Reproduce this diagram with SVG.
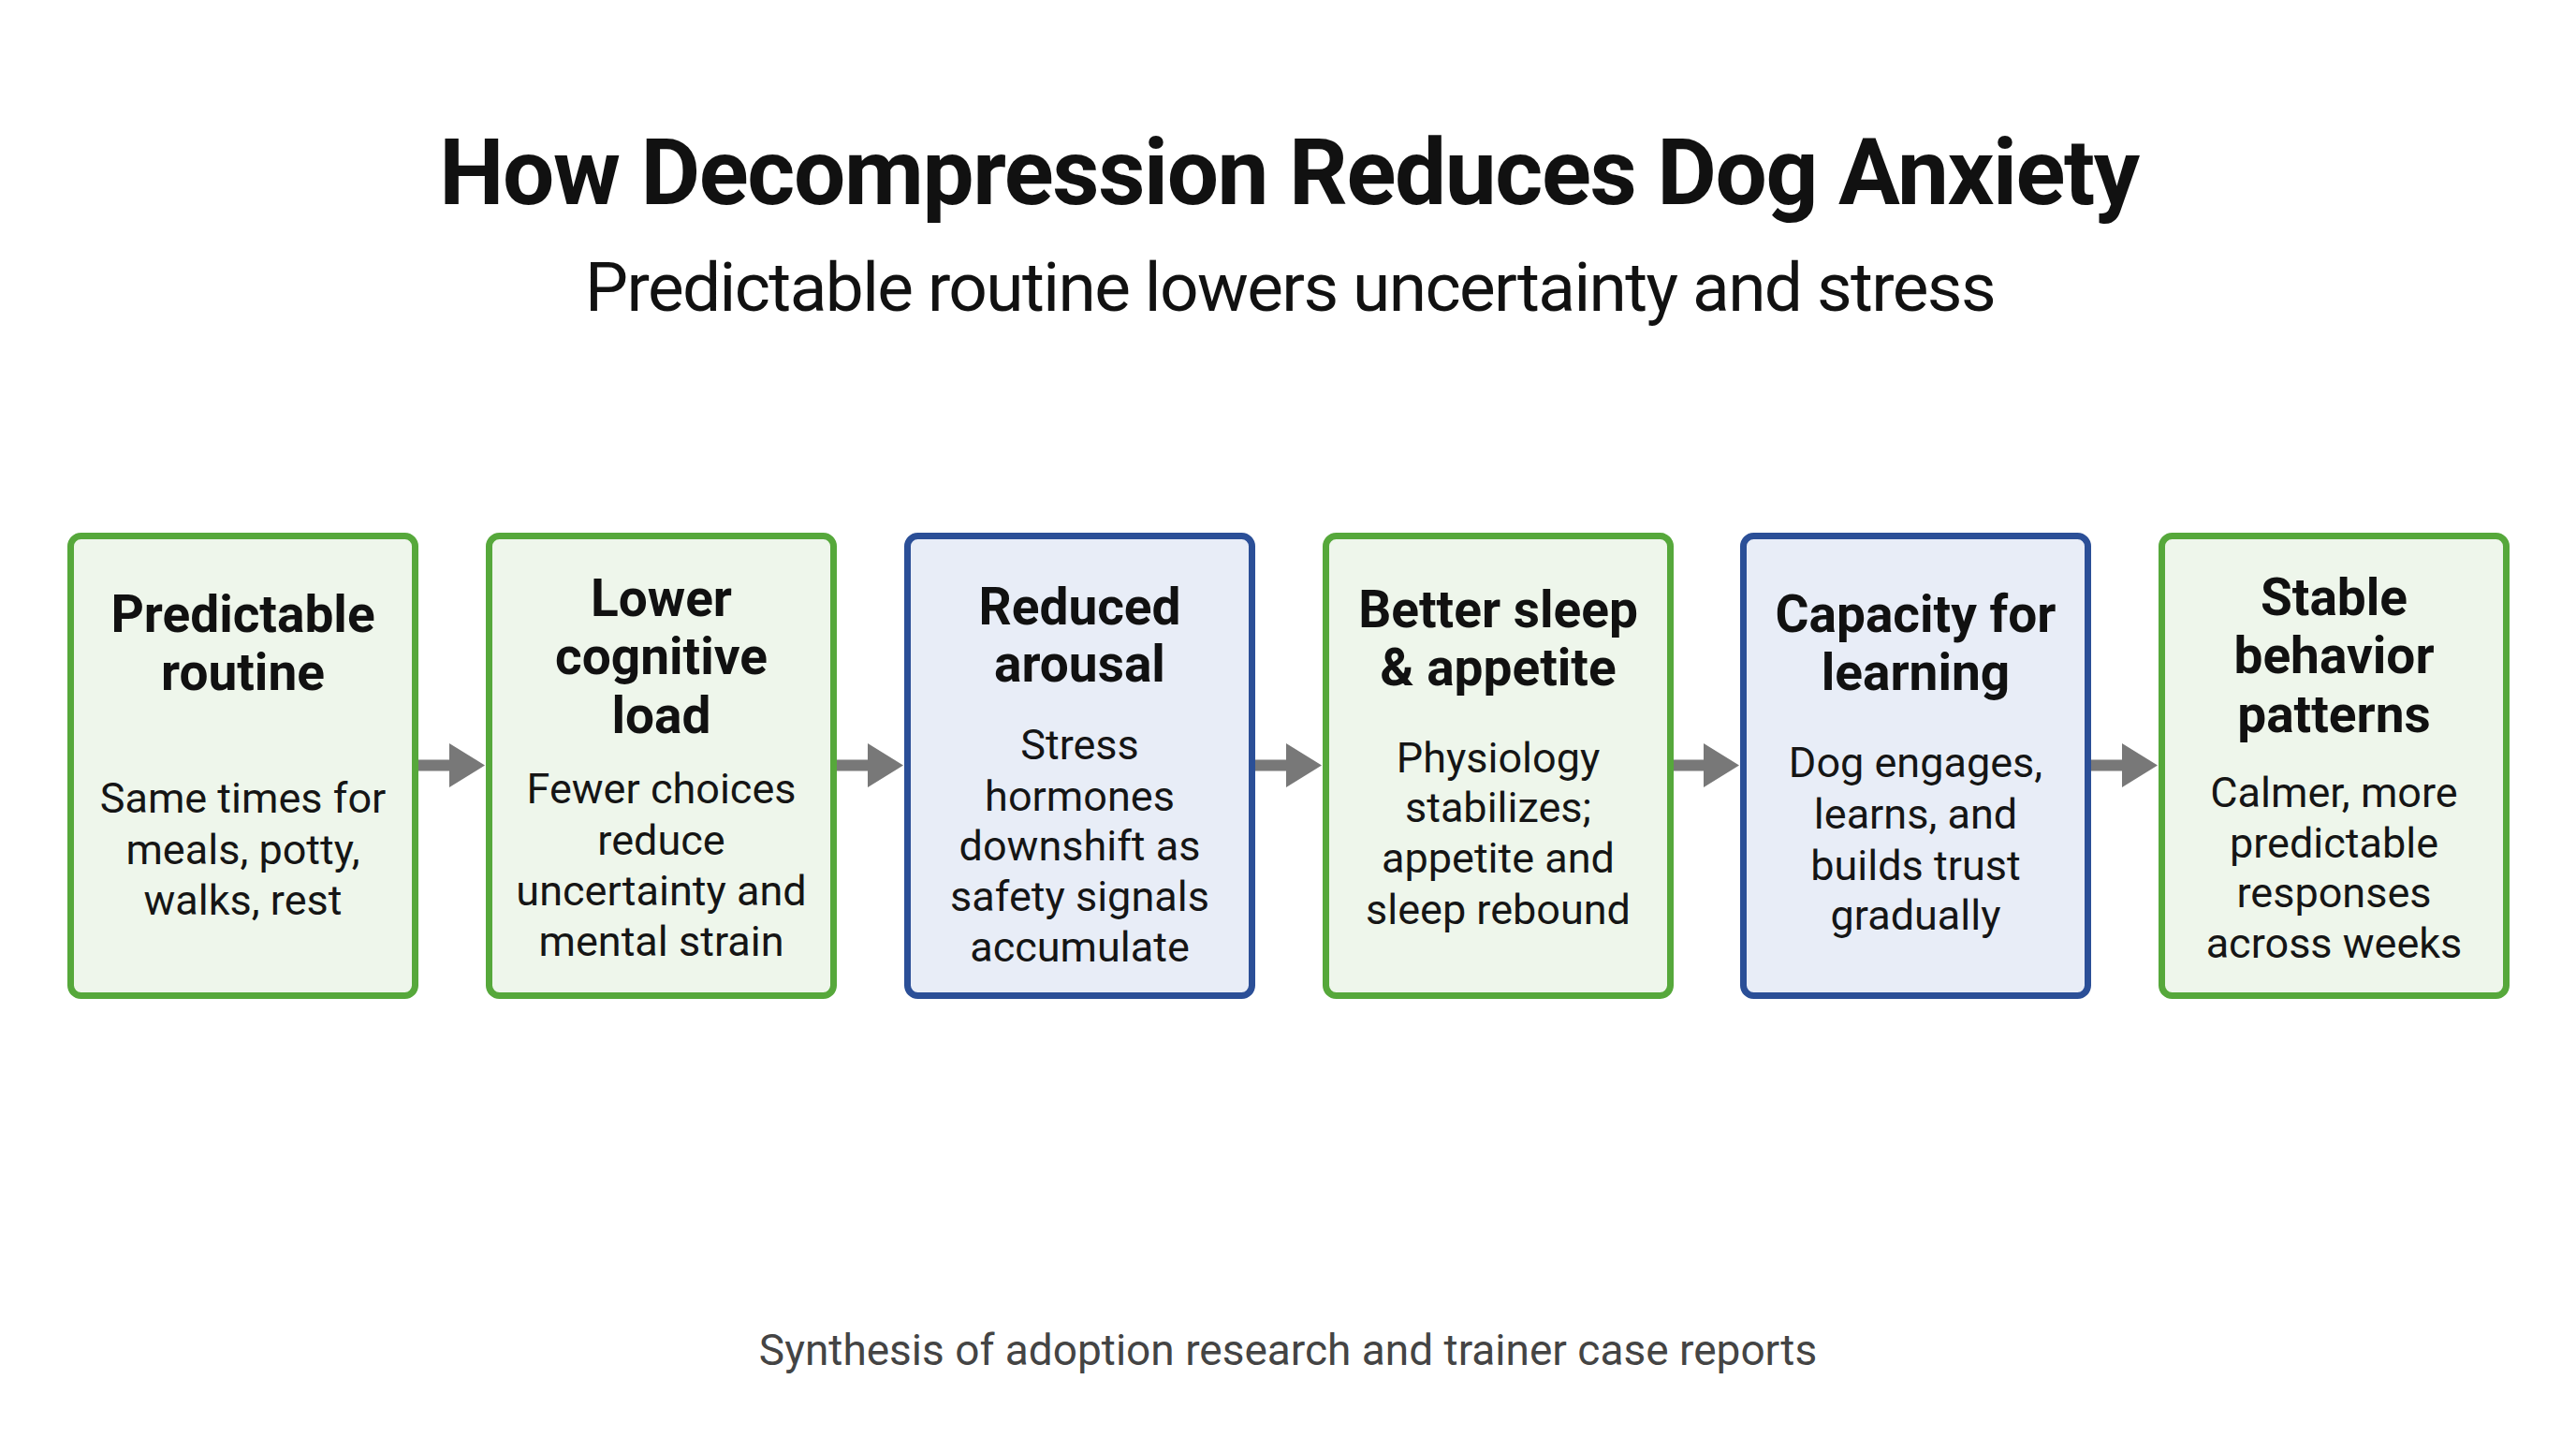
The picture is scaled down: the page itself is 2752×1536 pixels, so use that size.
<svg xmlns="http://www.w3.org/2000/svg" width="2752" height="1536" viewBox="0 0 2752 1536">
<style>
.bg{fill:#ffffff}
.title{font-family:Roboto,"Liberation Sans",sans-serif;font-weight:700;font-size:98px;letter-spacing:-1.4px;fill:#111111;text-anchor:middle}
.sub{font-family:Roboto,"Liberation Sans",sans-serif;font-weight:400;font-size:73px;letter-spacing:-1.6px;fill:#111111;text-anchor:middle}
.foot{font-family:Roboto,"Liberation Sans",sans-serif;font-weight:400;font-size:46px;fill:#444444;text-anchor:middle}
.green{fill:#eef6eb;stroke:#56a83b;stroke-width:7}
.blue{fill:#e8edf7;stroke:#2b4f97;stroke-width:7}
.nt{font-family:Roboto,"Liberation Sans",sans-serif;font-weight:700;font-size:55px;fill:#111111;text-anchor:middle}
.nb{font-family:Roboto,"Liberation Sans",sans-serif;font-weight:400;font-size:45px;fill:#151515;text-anchor:middle}
.arr{fill:#787878}
</style>
<rect class="bg" x="0" y="0" width="2752" height="1536"/>
<g id="header">
<text class="title" x="1377" y="218">How Decompression Reduces Dog Anxiety</text>
<text class="sub" x="1378" y="332">Predictable routine lowers uncertainty and stress</text>
</g>
<g id="connectors">
<path class="arr" d="M447 811.5 H480 V794 L518 817.5 L480 841 V823.5 H447 Z"/>
<path class="arr" d="M894 811.5 H927 V794 L965 817.5 L927 841 V823.5 H894 Z"/>
<path class="arr" d="M1341 811.5 H1374 V794 L1412 817.5 L1374 841 V823.5 H1341 Z"/>
<path class="arr" d="M1788 811.5 H1820 V794 L1858 817.5 L1820 841 V823.5 H1788 Z"/>
<path class="arr" d="M2234 811.5 H2267 V794 L2305 817.5 L2267 841 V823.5 H2234 Z"/>
</g>
<g id="node1">
<rect class="green" x="75.5" y="572.5" width="368" height="491" rx="11"/>
<text class="nt" x="259.5" y="675">Predictable</text>
<text class="nt" x="259.5" y="737">routine</text>
<text class="nb" x="259.5" y="868">Same times for</text>
<text class="nb" x="259.5" y="923">meals, potty,</text>
<text class="nb" x="259.5" y="977">walks, rest</text>
</g>
<g id="node2">
<rect class="green" x="522.5" y="572.5" width="368" height="491" rx="11"/>
<text class="nt" x="706.5" y="658">Lower</text>
<text class="nt" x="706.5" y="720">cognitive</text>
<text class="nt" x="706.5" y="783">load</text>
<text class="nb" x="706.5" y="858">Fewer choices</text>
<text class="nb" x="706.5" y="913">reduce</text>
<text class="nb" x="706.5" y="967">uncertainty and</text>
<text class="nb" x="706.5" y="1021">mental strain</text>
</g>
<g id="node3">
<rect class="blue" x="969.5" y="572.5" width="368" height="491" rx="11"/>
<text class="nt" x="1153.5" y="667">Reduced</text>
<text class="nt" x="1153.5" y="728">arousal</text>
<text class="nb" x="1153.5" y="811">Stress</text>
<text class="nb" x="1153.5" y="866">hormones</text>
<text class="nb" x="1153.5" y="919">downshift as</text>
<text class="nb" x="1153.5" y="973">safety signals</text>
<text class="nb" x="1153.5" y="1027">accumulate</text>
</g>
<g id="node4">
<rect class="green" x="1416.5" y="572.5" width="368" height="491" rx="11"/>
<text class="nt" x="1600.5" y="670">Better sleep</text>
<text class="nt" x="1600.5" y="732">&amp; appetite</text>
<text class="nb" x="1600.5" y="825">Physiology</text>
<text class="nb" x="1600.5" y="878">stabilizes;</text>
<text class="nb" x="1600.5" y="932">appetite and</text>
<text class="nb" x="1600.5" y="987">sleep rebound</text>
</g>
<g id="node5">
<rect class="blue" x="1862.5" y="572.5" width="368" height="491" rx="11"/>
<text class="nt" x="2046.5" y="675">Capacity for</text>
<text class="nt" x="2046.5" y="737">learning</text>
<text class="nb" x="2046.5" y="830">Dog engages,</text>
<text class="nb" x="2046.5" y="885">learns, and</text>
<text class="nb" x="2046.5" y="940">builds trust</text>
<text class="nb" x="2046.5" y="993">gradually</text>
</g>
<g id="node6">
<rect class="green" x="2309.5" y="572.5" width="368" height="491" rx="11"/>
<text class="nt" x="2493.5" y="657">Stable</text>
<text class="nt" x="2493.5" y="719">behavior</text>
<text class="nt" x="2493.5" y="782">patterns</text>
<text class="nb" x="2493.5" y="862">Calmer, more</text>
<text class="nb" x="2493.5" y="916">predictable</text>
<text class="nb" x="2493.5" y="969">responses</text>
<text class="nb" x="2493.5" y="1023">across weeks</text>
</g>
<g id="footer">
<text class="foot" x="1376" y="1458">Synthesis of adoption research and trainer case reports</text>
</g>
</svg>
